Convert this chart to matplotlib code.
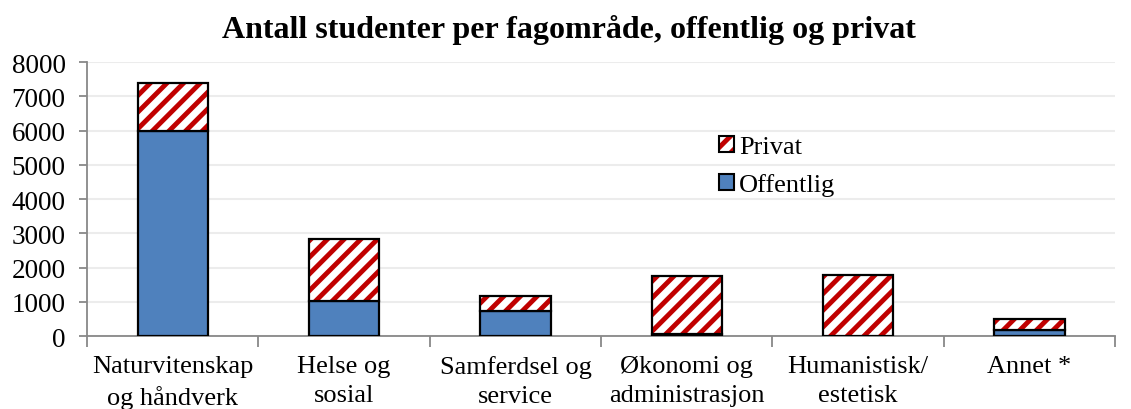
import matplotlib
matplotlib.use("Agg")
import matplotlib.pyplot as plt
import numpy as np
from matplotlib.patches import Patch
from matplotlib.legend_handler import HandlerTuple

categories = ["Naturvitenskap\nog håndverk", "Helse og\nsosial", "Samferdsel og\nservice",
              "Økonomi og\nadministrasjon", "Humanistisk/\nestetisk", "Annet *"]
offentlig = [6000, 1030, 720, 60, 0, 180]
privat = [1400, 1800, 440, 1680, 1770, 330]
yticks = [0, 1000, 2000, 3000, 4000, 5000, 6000, 7000, 8000]

plt.rcParams['font.family'] = ['Liberation Serif', 'DejaVu Serif']
plt.rcParams['hatch.linewidth'] = 3.5

fig = plt.figure(figsize=(11.31, 4.10), dpi=100)
ax = fig.add_axes([0.077, 0.178, 0.909, 0.668])

x = np.arange(len(categories))
w = 0.41
blue = "#4f81bd"
red = "#c00000"

ax.bar(x, offentlig, w, color=blue, edgecolor="black", linewidth=1.6, zorder=3)
ax.bar(x, privat, w, bottom=offentlig, color="white", edgecolor=red, hatch="//", linewidth=0, zorder=3)
ax.bar(x, privat, w, bottom=offentlig, fill=False, edgecolor="black", linewidth=1.6, zorder=4)

ax.set_xlim(-0.5, len(categories) - 0.5)
ax.set_ylim(0, 8000)
ax.set_yticks(yticks)
ax.set_yticklabels([str(v) for v in yticks], fontsize=19.5)
ax.set_xticks(x)
ax.set_xticklabels(categories, fontsize=19, linespacing=1.4)
ax.set_xticks(np.arange(-0.5, len(categories)), minor=True)
ax.tick_params(axis='x', which='major', length=0, pad=14)
ax.tick_params(axis='x', which='minor', length=8, color="#888888", width=1.3)
ax.tick_params(axis='y', length=6, color="#888888", width=1.3, pad=9.5)

ax.grid(axis='y', color="#ececec", linewidth=1.5, zorder=0)
for s in ['top', 'right']:
    ax.spines[s].set_visible(False)
for s in ['left', 'bottom']:
    ax.spines[s].set_color("#888888")
    ax.spines[s].set_linewidth(1.3)

fig.text(0.503, 1 - 38 / 410, "Antall studenter per fagområde, offentlig og privat",
         fontsize=23, fontweight="bold", ha="center", va="baseline")

h_priv = (Patch(facecolor="white", edgecolor=red, hatch="//", linewidth=0),
          Patch(fill=False, edgecolor="black", linewidth=1.5))
h_off = Patch(facecolor=blue, edgecolor="black", linewidth=1.5)
leg = ax.legend([h_priv, h_off], ["Privat", "Offentlig"],
                handler_map={tuple: HandlerTuple(ndivide=1, pad=0)},
                loc="upper left", bbox_to_anchor=(0.602, 0.778), frameon=False,
                fontsize=19, handlelength=0.55, handleheight=0.55, handletextpad=0.2,
                labelspacing=0.55, borderpad=0)

fig.savefig("out.png", dpi=100)
